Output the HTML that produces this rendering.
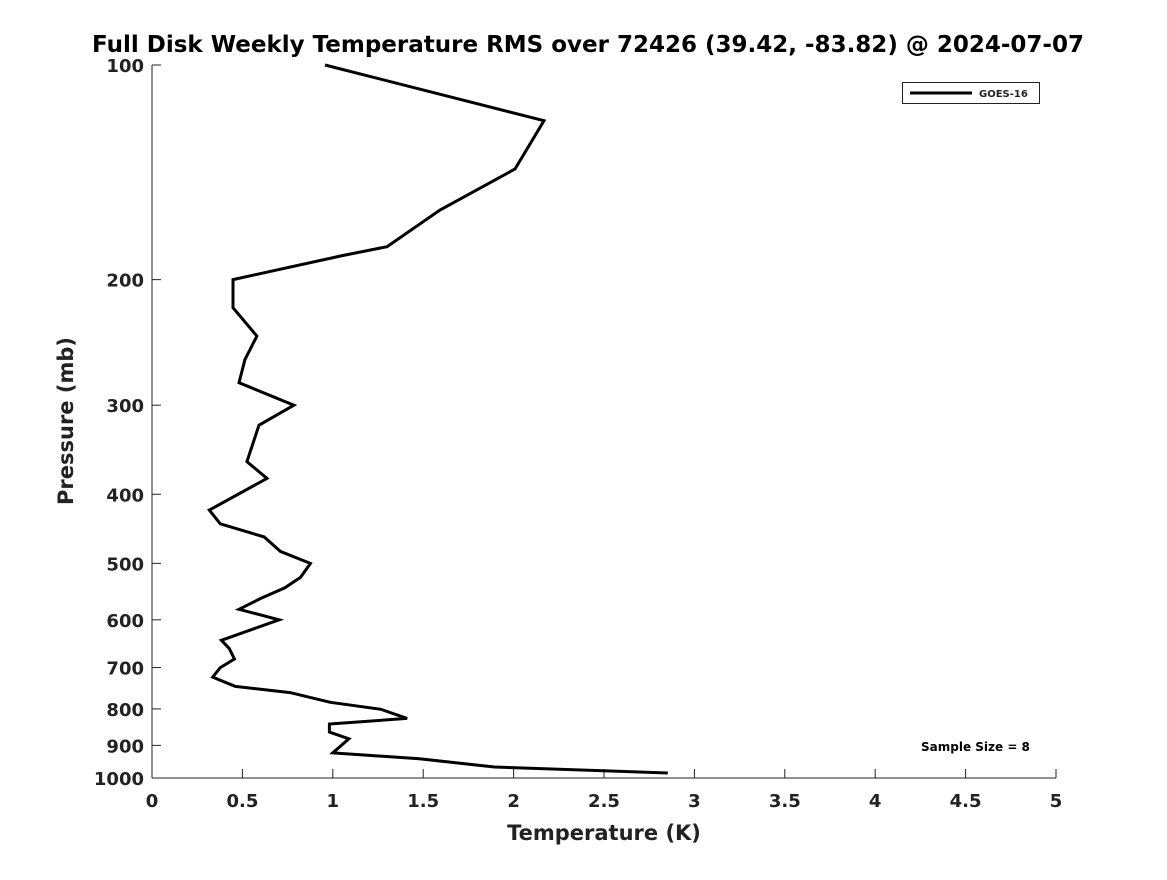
<!DOCTYPE html>
<html><head><meta charset="utf-8"><style>
body{margin:0;background:#fff;}
svg text{font-family:"DejaVu Sans","Liberation Sans",sans-serif;font-weight:bold;fill:#222;}
</style></head><body>
<svg id="chart" width="1167" height="875" xmlns="http://www.w3.org/2000/svg">
<rect width="1167" height="875" fill="#fff"/>
<text x="588" y="52" text-anchor="middle" font-size="23" style="fill:#000">Full Disk Weekly Temperature RMS over 72426 (39.42, -83.82) @ 2024-07-07</text>
<g id="axes"></g>
<g id="series"></g>
<text x="604" y="840" text-anchor="middle" font-size="21">Temperature (K)</text>
<text transform="translate(73,421) rotate(-90)" text-anchor="middle" font-size="21">Pressure (mb)</text>
<g>
<rect x="902.5" y="82.5" width="137" height="21" fill="#fff" stroke="#222" stroke-width="1"/>
<line x1="910" y1="93" x2="972" y2="93" stroke="#000" stroke-width="3"/>
<text x="979" y="97" font-size="10">GOES-16</text>
</g>
<text x="921" y="751" font-size="12" style="fill:#000">Sample Size = 8</text>
</svg>
<script>
const xTicks=[0,0.5,1,1.5,2,2.5,3,3.5,4,4.5,5];
const xTickLabels=["0","0.5","1","1.5","2","2.5","3","3.5","4","4.5","5"];
const yTicks=[100,200,300,400,500,600,700,800,900,1000];
const yTickLabels=["100","200","300","400","500","600","700","800","900","1000"];
const pressure=[100,119.7,139.9,159.7,179.8,185,200,219,240,259,279,300,320,360,380,421,440,459,481,500,523,541,560,580,600,641,658,681,700,722,744,759,783,801,825,840,862,881,922,940,965,984];
const rms=[0.957,2.168,2.008,1.593,1.30,1.056,0.448,0.448,0.58,0.514,0.481,0.785,0.592,0.525,0.636,0.317,0.378,0.620,0.710,0.876,0.822,0.735,0.600,0.481,0.703,0.384,0.427,0.456,0.378,0.336,0.461,0.764,0.986,1.266,1.411,0.981,0.981,1.089,1.0,1.479,1.894,2.853];
const X0=152,X1=1056,Y0=65,Y1=778;
const xs=v=>X0+(v-0)/(5-0)*(X1-X0);
const ys=p=>Y0+(Math.log10(p)-2)/(3-2)*(Y1-Y0);
const NS="http://www.w3.org/2000/svg";
const axes=document.getElementById('axes');
function mk(tag,attrs,parent){const e=document.createElementNS(NS,tag);for(const k in attrs)e.setAttribute(k,attrs[k]);parent.appendChild(e);return e;}
let yl=mk('line',{x1:X0,y1:Y0,x2:X0,y2:Y1,stroke:'#222','stroke-width':1},axes);


let xl=mk('line',{x1:X0,y1:Y1,x2:X1,y2:Y1,stroke:'#222','stroke-width':1},axes);


xTicks.forEach((v,i)=>{
  const x=xs(v);
  const t=mk('line',{x1:x,y1:Y1,x2:x,y2:Y1-9,stroke:'#222','stroke-width':1},axes);
  
  
  const l=mk('text',{x:x,y:Y1+29,'text-anchor':'middle','font-size':18},axes);
  l.textContent=xTickLabels[i];
  
  
});
yTicks.forEach((v,i)=>{
  const y=ys(v);
  const t=mk('line',{x1:X0,y1:y,x2:X0+9,y2:y,stroke:'#222','stroke-width':1},axes);
  
  
  const l=mk('text',{x:X0-8,y:y+7,'text-anchor':'end','font-size':18},axes);
  l.textContent=yTickLabels[i];
  
  
});
const pts=pressure.map((p,i)=>xs(rms[i]).toFixed(1)+','+ys(p).toFixed(1)).join(' ');
const line=mk('polyline',{points:pts,fill:'none',stroke:'#000','stroke-width':3,'stroke-linejoin':'miter'},document.getElementById('series'));


</script>
</body></html>
